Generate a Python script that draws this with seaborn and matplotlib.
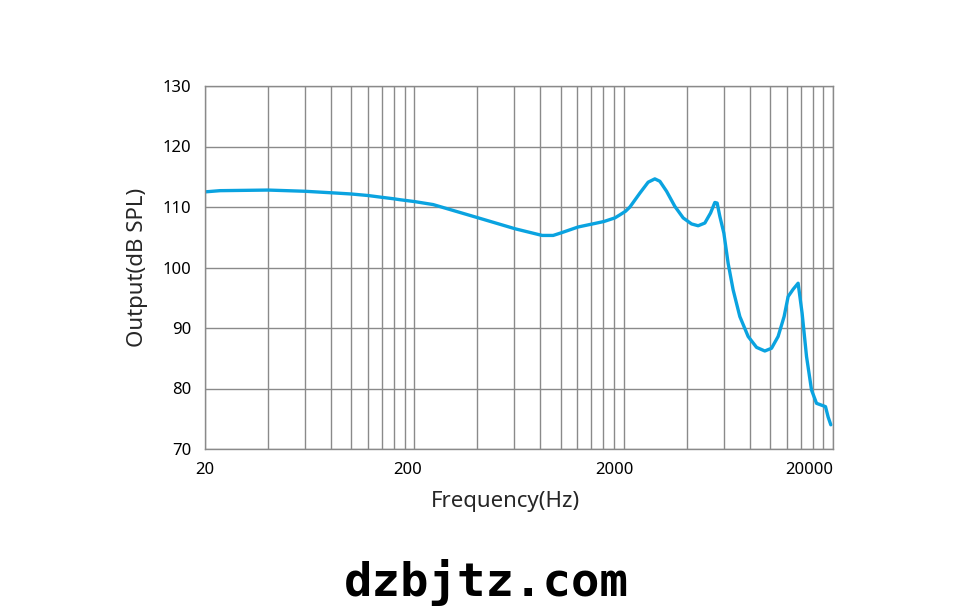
import numpy as np
import pandas as pd
import matplotlib
matplotlib.use("Agg")
import matplotlib.pyplot as plt
import matplotlib.transforms as mtransforms
import seaborn as sns

# frequency response
freq = [20, 23.6, 40, 60, 85, 100, 120, 140, 160, 171, 200, 246, 400, 606, 816, 921,
        1000, 1213, 1420, 1609, 1816, 1918, 2042, 2142, 2391, 2618, 2818, 2978, 3206,
        3512, 3848, 4220, 4538, 4884, 5200, 5452, 5592, 5760, 6020, 6310, 6668, 7176,
        7864, 8626, 9448, 10172, 10936, 11682, 12210, 12900, 13626, 14238, 14946,
        15792, 16684, 17940, 18416, 18952, 19522]
spl = [112.5, 112.7, 112.8, 112.6, 112.3, 112.15, 111.9, 111.6, 111.35, 111.2, 110.9,
       110.4, 108.25, 106.4, 105.3, 105.3, 105.7, 106.7, 107.2, 107.6, 108.2, 108.7,
       109.3, 110.0, 112.3, 114.1, 114.65, 114.25, 112.6, 110.1, 108.2, 107.2, 106.9,
       107.35, 109.0, 110.75, 110.65, 108.45, 105.7, 100.7, 96.3, 91.9, 88.6, 86.8,
       86.2, 86.65, 88.6, 91.9, 95.2, 96.4, 97.4, 92.45, 85.3, 79.75, 77.55, 77.15,
       77.0, 75.3, 74.0]

x_ticks = [20, 200, 2000, 20000]
x_tick_labels = ["20", "200", "2000", "20000"]
x_grid = [40, 60, 80, 100, 120, 140, 160, 180,
          400, 600, 800, 1000, 1200, 1400, 1600, 1800,
          4000, 6000, 8000, 10000, 12000, 14000, 16000, 18000]
y_ticks = [70, 80, 90, 100, 110, 120, 130]

df = pd.DataFrame({"Frequency": freq, "SPL": spl})

sns.set_style("white")
plt.rcParams["font.family"] = ["Noto Sans", "DejaVu Sans"]

fig = plt.figure(figsize=(9.76, 6.13), dpi=100)
ax = fig.add_axes([205 / 976, 1 - 449 / 613, 628 / 976, 363 / 613])

sns.lineplot(data=df, x="Frequency", y="SPL", ax=ax, color="#0aa3e0", linewidth=2.4)
ax.lines[0].set_solid_joinstyle("round")

ax.set_xscale("log")
ax.set_xlim(20, 20000)
ax.set_ylim(70, 130)
ax.set_xticks(x_ticks)
ax.set_xticklabels(x_tick_labels)
ax.set_xticks(x_grid, minor=True)
ax.set_xticklabels([], minor=True)
ax.set_yticks(y_ticks)
ax.tick_params(axis="both", which="both", length=0, labelsize=12, colors="black")
ax.tick_params(axis="x", pad=9)
ax.tick_params(axis="y", pad=10)

ax.grid(True, which="both", color="#8a8a8a", linewidth=1.0)
for s in ax.spines.values():
    s.set_color("#8a8a8a")
    s.set_linewidth(1.0)

# nudge x tick labels like the original
offsets = [0, -7, -9, 0]
for lab, dx in zip(ax.get_xticklabels(), offsets):
    lab.set_transform(lab.get_transform() + mtransforms.ScaledTranslation(dx / 100, 0, fig.dpi_scale_trans))
ax.get_xticklabels()[-1].set_horizontalalignment("right")

ax.set_xlabel("Frequency(Hz)", fontsize=16, labelpad=10)
ax.xaxis.label.set_x(0.479)
ax.set_ylabel("Output(dB SPL)", fontsize=16, labelpad=10)

fig.text(486 / 976, 1 - 583 / 613, "dzbjtz.com", ha="center", va="center",
         fontsize=34, family="DejaVu Sans Mono", weight="bold", color="black")

fig.savefig("out.png", dpi=100, facecolor="white")
